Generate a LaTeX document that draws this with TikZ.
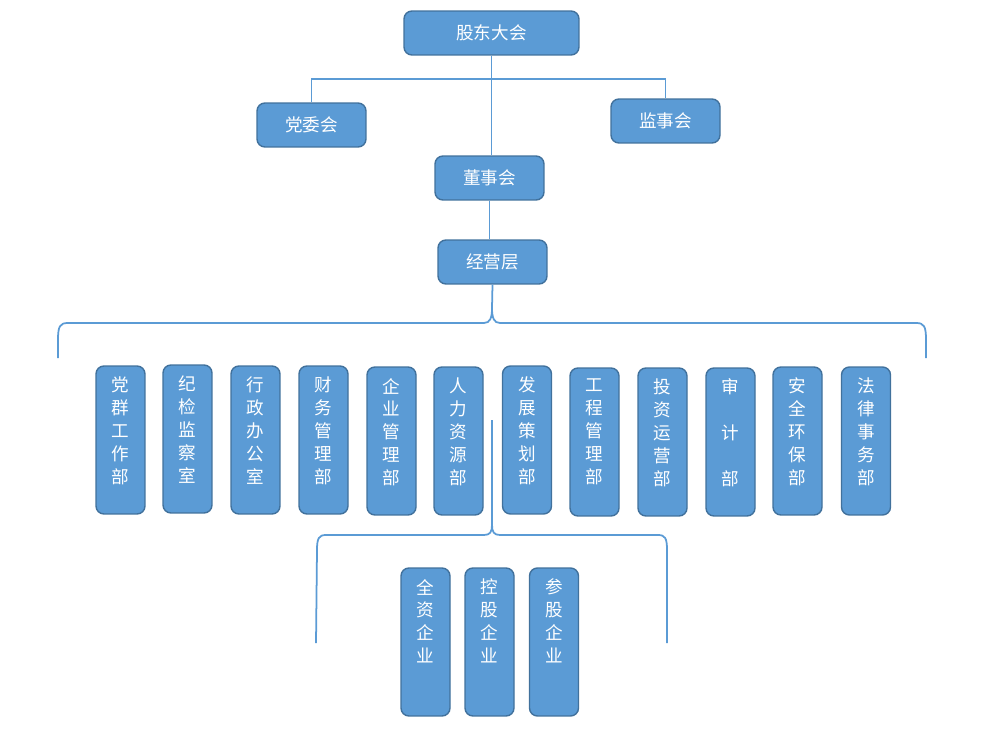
\documentclass[tikz,border=0pt]{standalone}
\usepackage{fontspec}
\usepackage{tikz}
\newfontfamily\cjk{Noto Sans CJK SC}
\definecolor{orgblue}{RGB}{91,155,213}
\definecolor{orgedge}{RGB}{65,113,156}

\begin{document}
\begin{tikzpicture}[x=0.02cm,y=-0.02cm,
  box/.style={draw=orgedge,fill=orgblue,line width=0.8pt,rounded corners=4.5pt,inner sep=0pt,text=white,font=\cjk\fontsize{10}{13}\selectfont},
  topbox/.style={box,minimum width=3.5cm,minimum height=0.88cm},
  midbox/.style={box,minimum width=2.18cm,minimum height=0.88cm},
  dept/.style={box,minimum width=0.98cm,minimum height=2.96cm},
  depttxt/.style={anchor=north,yshift=-6.5pt,align=center,inner sep=0pt,text=white,font=\cjk\fontsize{10}{13}\selectfont},
  link/.style={draw=orgblue,line width=1pt}]
\useasboundingbox (0,0) rectangle (1000,750);

% Top levels
\node[topbox] (gudong) at (491.5,33) {股东大会};
\node[midbox] (dangwei) at (311.5,125) {党委会};
\node[midbox] (jianshi) at (665.5,121) {监事会};
\node[midbox] (dongshi) at (489.5,178) {董事会};
\node[midbox] (jingying) at (492.5,262) {经营层};

\coordinate (hub) at (492,79);
\draw[link] (gudong.south) -- (gudong.south |- dongshi.north);
\draw[link] (dangwei.north) |- (hub) -| (jianshi.north);
\draw[link] (dongshi.south) -- (dongshi.south |- jingying.north);

% Departments
\node[dept,label={[depttxt]north:党\\群\\工\\作\\部}] (dangqun) at (120.5,440) {};
\node[dept,label={[depttxt]north:纪\\检\\监\\察\\室}] (jijian) at (187.5,439) {};
\node[dept,label={[depttxt]north:行\\政\\办\\公\\室}] (xingzheng) at (255.5,440) {};
\node[dept,label={[depttxt]north:财\\务\\管\\理\\部}] (caiwu) at (323.5,440) {};
\node[dept,label={[depttxt]north:企\\业\\管\\理\\部}] (qiye) at (391.5,441) {};
\node[dept,label={[depttxt]north:人\\力\\资\\源\\部}] (renli) at (458.5,441) {};
\node[dept,label={[depttxt]north:发\\展\\策\\划\\部}] (fazhan) at (527,440) {};
\node[dept,label={[depttxt]north:工\\程\\管\\理\\部}] (gongcheng) at (594.5,442) {};
\node[dept,label={[depttxt]north:投\\资\\运\\营\\部}] (touzi) at (662.5,442) {};
\node[dept,label={[depttxt]north:审\\ \\计\\ \\部}] (shenji) at (730.5,442) {};
\node[dept,label={[depttxt]north:安\\全\\环\\保\\部}] (anquan) at (797.5,441) {};
\node[dept,label={[depttxt]north:法\\律\\事\\务\\部}] (falv) at (866,441) {};

% Brace under management
\coordinate (braceL) at (58,358);
\coordinate (braceR) at (926,358);
\draw[link] (braceL) -- (58,340) .. controls (58,326) and (60,323) .. (68,323) -- (484,323) .. controls (490,323) and (492,318) .. (492,308) -- (jingying.south);
\draw[link] (braceR) -- (926,340) .. controls (926,326) and (924,323) .. (916,323) -- (500,323) .. controls (494,323) and (492,318) .. (492,308);

% Subsidiaries
\node[dept,label={[depttxt]north:全\\资\\企\\业}] (quanzi) at (425.5,642) {};
\node[dept,label={[depttxt]north:控\\股\\企\\业}] (konggu) at (489.5,642) {};
\node[dept,label={[depttxt]north:参\\股\\企\\业}] (cangu) at (554,642) {};

\coordinate (subtip) at (492,420);
\coordinate (subL) at (316,643);
\coordinate (subR) at (667,643);
\draw[link] (subL) -- (317,550) .. controls (317,538) and (319,535) .. (326,535) -- (484,535) .. controls (490,535) and (492,532) .. (492,525) -- (subtip);
\draw[link] (subR) -- (667,550) .. controls (667,538) and (665,535) .. (658,535) -- (500,535) .. controls (494,535) and (492,532) .. (492,525);
\end{tikzpicture}
\end{document}
